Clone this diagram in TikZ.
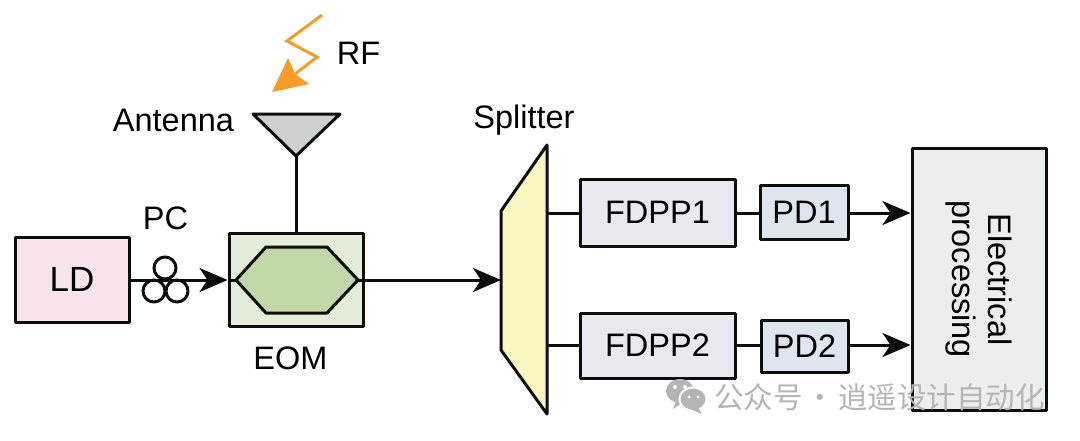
\documentclass[tikz,border=0pt]{standalone}
\usepackage{fontspec}
\setmainfont{Liberation Sans}
\newfontfamily\cjk{Noto Sans CJK SC}
\usetikzlibrary{arrows.meta}
\definecolor{ldfill}{HTML}{F6E3EE}
\definecolor{eomfill}{HTML}{E3ECD8}
\definecolor{hexfill}{HTML}{C0D8A8}
\definecolor{fdppfill}{HTML}{E9E8EF}
\definecolor{pdfill}{HTML}{DEE5EE}
\definecolor{procfill}{HTML}{ECEEED}
\definecolor{splitfill}{HTML}{FCF7C0}
\definecolor{antfill}{HTML}{CFD1D0}
\definecolor{rforange}{HTML}{F89B28}
\definecolor{markgray}{HTML}{B4B4B4}
\definecolor{inkline}{HTML}{0C0C0C}
\tikzset{
  outline/.style={draw=inkline,line width=3pt,line join=round},
  block/.style={outline,rectangle,inner sep=0pt,font=\fontsize{32.5}{36}\selectfont},
  lbl/.style={font=\fontsize{32.5}{36}\selectfont,inner sep=0pt},
  wire/.style={draw=inkline,line width=3pt},
  arrowwire/.style={wire,-{Stealth[length=28pt,width=24pt,inset=8pt]}},
}
\begin{document}
\begin{tikzpicture}[x=1pt,y=-1pt]
\useasboundingbox (0,0) rectangle (1080,440);

% Anchor points of the modulator, antenna and splitter
\coordinate (hexL) at (236,280);
\coordinate (hexR) at (358,280);
\coordinate (antTip) at (296,156);
\coordinate (splitIn) at (501,280);
\coordinate (splitOutA) at (547,213);
\coordinate (splitOutB) at (547,345);

% Blocks
\node[block,fill=ldfill,minimum width=114pt,minimum height=85pt,font=\fontsize{35}{38}\selectfont] (ld) at (72,279.5) {LD};
\node[block,fill=eomfill,minimum width=134pt,minimum height=93pt] (eom) at (296,279.5) {};
\node[block,fill=fdppfill,minimum width=155pt,minimum height=67pt] (fdppa) at (657.5,212.5) {FDPP1};
\node[block,fill=pdfill,minimum width=88pt,minimum height=54pt] (pda) at (804,212) {PD1};
\node[block,fill=fdppfill,minimum width=155pt,minimum height=65pt] (fdppb) at (657.5,345.5) {FDPP2};
\node[block,fill=pdfill,minimum width=87pt,minimum height=52pt] (pdb) at (804.5,346) {PD2};
\node[block,fill=procfill,minimum width=134pt,minimum height=262pt] (proc) at (979,279) {};
\node[lbl,rotate=-90,align=center,text width=200pt] (proctext) at (979,279.5) {\baselineskip=39pt Electrical\\processing};

% Modulator core
\draw[outline,fill=hexfill] (hexL) -- (266,247) -- (327,247) -- (hexR) -- (327,313) -- (266,313) -- cycle;

% Splitter
\draw[outline,fill=splitfill] (501,211) -- (547,145) -- (547,414) -- (501,350) -- cycle;

% Antenna
\draw[outline,fill=antfill] (253,114) -- (340,114) -- (antTip) -- cycle;
\draw[wire] (antTip) -- (eom.north -| antTip);

% Incoming RF bolt
\coordinate (rfA) at (322,15);
\coordinate (rfB) at (287,41);
\coordinate (rfC) at (317,57);
\coordinate (rfD) at (295,74);
\draw[draw=rforange,line width=3pt,line join=miter] (rfA) -- (rfB) -- (rfC) -- (rfD);
\fill[rforange] (272,92) -- (288,58) -- (295,74) -- (309,84) -- cycle;

% Fibre and electrical connections
\draw[arrowwire] (ld.east |- hexL) -- (eom.west |- hexL);
\draw[wire] (eom.west |- hexL) -- (hexL);
\draw[arrowwire] (hexR) -- (splitIn);
\draw[wire] (splitOutA) -- (fdppa.west |- splitOutA);
\draw[wire] (fdppa.east |- splitOutA) -- (pda.west |- splitOutA);
\draw[arrowwire] (pda.east |- splitOutA) -- (proc.west |- splitOutA);
\draw[wire] (splitOutB) -- (fdppb.west |- splitOutB);
\draw[wire] (fdppb.east |- splitOutB) -- (pdb.west |- splitOutB);
\draw[arrowwire] (pdb.east |- splitOutB) -- (proc.west |- splitOutB);

% Polarization controller coils
\foreach \cx/\cy in {165/268,154/291,177/291}
  \draw[draw=inkline,line width=3pt] (\cx,\cy) circle (11pt);

% Labels
\node[lbl] (rflabel) at (358.5,53) {RF};
\node[lbl] (antlabel) at (173.5,120) {Antenna};
\node[lbl] (pclabel) at (165.5,218) {PC};
\node[lbl] (eomlabel) at (290.5,358) {EOM};
\node[lbl] (splitlabel) at (524,120) {Splitter};

% Account mark in the lower right corner
\begin{scope}
  \fill[markgray] (680,391) ellipse (14pt and 12pt);
  \fill[markgray] (676,401) -- (673,409) -- (684,402) -- cycle;
  \fill[white] (693,399) ellipse (14.5pt and 12.5pt);
  \fill[markgray] (693,399) ellipse (12.5pt and 10.5pt);
  \fill[markgray] (698,407) -- (702,414) -- (690,409) -- cycle;
  \fill[white] (675,387) circle (2pt) (685,387) circle (2pt) (689,397) circle (1.7pt) (698,397) circle (1.7pt);
\end{scope}
\node[font=\cjk\fontsize{29.5}{32}\selectfont,text=markgray,inner sep=0pt,anchor=west] (marktext) at (714,397) {公众号\hspace{3pt}·\hspace{3pt}逍遥设计自动化};
\end{tikzpicture}
\end{document}
